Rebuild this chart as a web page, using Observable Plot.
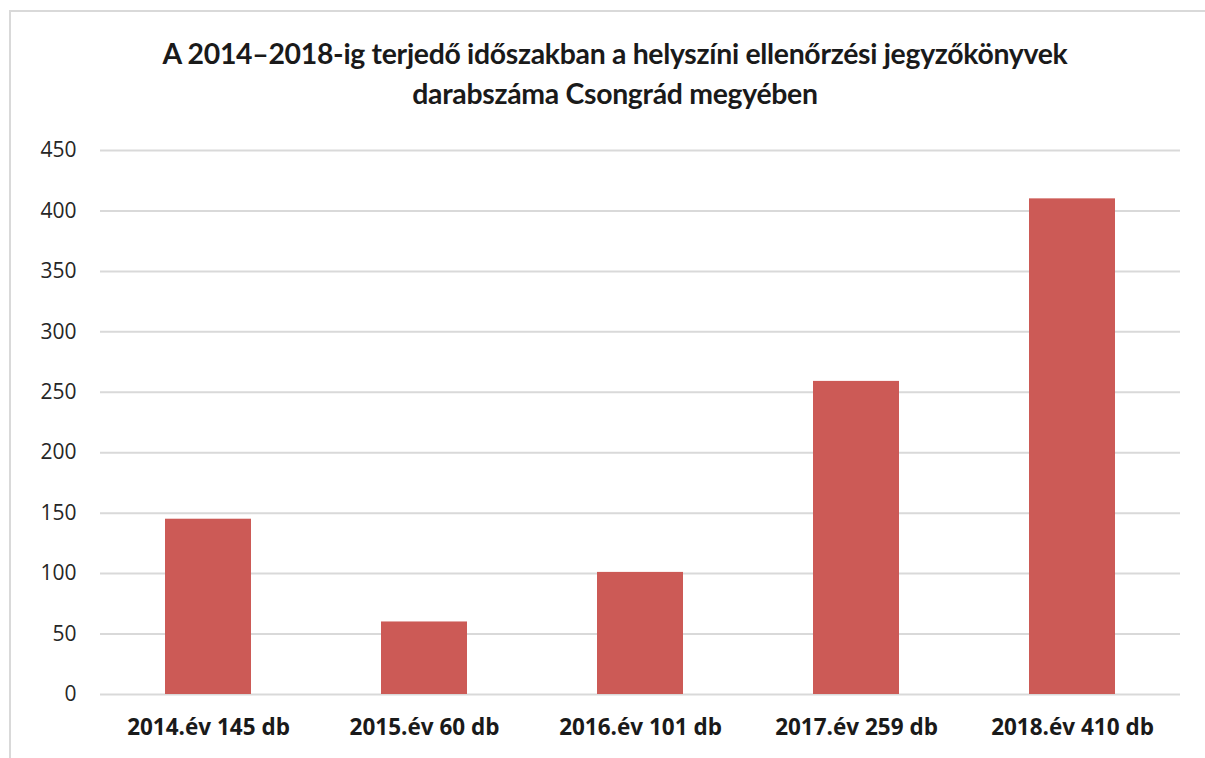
<!DOCTYPE html>
<html>
<head>
<meta charset="utf-8">
<script src="https://cdn.jsdelivr.net/npm/d3@7"></script>
<script src="https://cdn.jsdelivr.net/npm/@observablehq/plot@0.6"></script>
<style>
  html, body { margin: 0; padding: 0; background: #fff; }
  body { width: 1205px; height: 758px; position: relative; overflow: hidden; font-family: Lato, "Open Sans", sans-serif; }
  #frame { position: absolute; left: 9px; top: 10px; width: 1300px; height: 900px; border-left: 2px solid #d9d9d9; border-top: 2px solid #d9d9d9; box-sizing: border-box; }
  #title { position: absolute; left: 0; top: 33px; width: 1230px; text-align: center; font-weight: bold; font-size: 28.4px; line-height: 40px; color: #1a1a1a; letter-spacing: -0.3px; }
  #chart { position: absolute; left: 0; top: 130px; }
</style>
</head>
<body>
<div id="frame"></div>
<div id="title">A 2014–2018-ig terjedő időszakban a helyszíni ellenőrzési jegyzőkönyvek<br>darabszáma Csongrád megyében</div>
<div id="chart"></div>
<script>
const categories = ["2014.év 145 db", "2015.év 60 db", "2016.év 101 db", "2017.év 259 db", "2018.év 410 db"];
const values = [145, 60, 101, 259, 410];
const yTicks = [0, 50, 100, 150, 200, 250, 300, 350, 400, 450];

const data = categories.map((c, i) => ({category: c, value: values[i]}));

const plot = Plot.plot({
  width: 1205,
  height: 628,
  marginTop: 20,
  marginBottom: 64,
  marginLeft: 100,
  marginRight: 25,
  style: {fontFamily: "Open Sans", fontSize: "20px", color: "#333", background: "transparent"},
  x: {domain: categories, paddingInner: 0.6, paddingOuter: 0.3, label: null},
  y: {domain: [0, 450], ticks: yTicks, label: null},
  marks: [
    Plot.gridY(yTicks, {stroke: "#d9d9d9", strokeOpacity: 1, strokeWidth: 2}),
    Plot.axisY(yTicks, {tickSize: 0, tickPadding: 24, fontSize: 21, fill: "#262626"}),
    Plot.axisX({tickSize: 0, tickPadding: 25, fontSize: 22.5, fontWeight: "bold", fill: "#1a1a1a"}),
    Plot.barY(data, {x: "category", y: "value", fill: "#CC5A56"})
  ]
});
document.getElementById("chart").appendChild(plot);
</script>
</body>
</html>
